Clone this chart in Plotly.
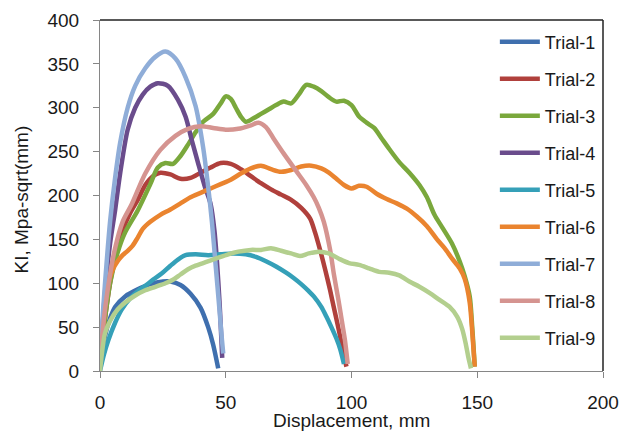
import plotly.graph_objects as go

# ---- data ----
trial1_x = [0, 2, 4, 6, 10, 15, 20, 25, 28, 32, 36, 40, 43, 45, 47]
trial1_y = [5, 40, 60, 73, 85, 93, 99, 102, 102, 98, 88, 72, 50, 30, 3]

trial2_x = [0, 2, 4, 6, 9, 12, 15, 18, 21, 24, 28, 32, 36, 40, 44, 48, 52, 56, 60, 64, 68, 72, 76, 80, 83.5, 85.5, 87.5, 89.5, 91.5, 93, 94.7, 96, 97.4, 98]
trial2_y = [10, 60, 100, 130, 160, 180, 195, 212, 222, 226, 224, 219, 220, 226, 232, 237, 236, 230, 222, 214, 207, 201, 195, 186, 174, 158, 138, 116, 92, 72, 50, 32, 12, 5]

trial3_x = [0, 2, 4, 7, 10, 15, 20, 23, 26, 29, 32, 35, 38, 41, 45, 48, 50, 52, 54, 56, 58, 61, 64, 67, 70, 73, 76, 79, 82, 85, 88, 91, 94, 97, 100, 103, 106, 109, 112, 115, 119, 123, 127, 130, 133, 136, 140, 143, 145, 147, 148, 149]
trial3_y = [10, 60, 100, 135, 158, 183, 213, 232, 237, 236, 245, 258, 272, 284, 293, 305, 313, 310, 300, 290, 284, 288, 293, 298, 303, 307, 305, 315, 326, 324, 319, 312, 307, 308, 303, 290, 283, 277, 265, 253, 238, 226, 212, 198, 178, 164, 145, 125, 108, 85, 50, 5]

trial4_x = [0, 1, 2, 4, 6, 8, 11, 14, 17, 20, 23, 27, 31, 34, 36.5, 39, 41.7, 44, 45.5, 46.5, 47.5, 48.2, 48.6]
trial4_y = [15, 50, 90, 145, 183, 225, 275, 300, 315, 324, 328, 325, 309, 290, 263, 237, 210, 190, 160, 125, 80, 40, 15]

trial5_x = [0, 1.5, 3.3, 6, 8.6, 12, 15, 18, 21, 24.5, 28, 31, 34, 38, 43, 48, 53, 58, 62, 66, 70, 74, 77, 80, 83, 85, 88, 90, 92, 94, 95.5, 97]
trial5_y = [0, 18, 35, 55, 70, 83, 91, 97, 104, 111, 120, 127, 132, 133, 132, 133, 134, 133, 130, 125, 119, 112, 106, 99, 91, 85, 73, 62, 50, 37, 25, 8]

trial6_x = [0, 1.5, 3, 5, 7, 9, 11, 13, 15, 17, 20, 24, 28, 32, 36, 40, 44, 48, 52, 56, 60, 64, 68, 72, 76, 80, 84, 88, 91, 94, 97, 100, 103, 106, 110, 114, 118, 122, 126, 130, 134, 137, 140, 143, 145, 147, 148, 149]
trial6_y = [15, 60, 95, 115, 125, 132, 137, 143, 152, 162, 170, 178, 184, 191, 198, 203, 208, 213, 218, 225, 231, 234, 230, 227, 229, 233, 234, 231, 226, 219, 212, 208, 211, 210, 202, 196, 191, 185, 176, 165, 150, 140, 128, 117, 105, 78, 45, 5]

trial7_x = [0, 1, 2, 4, 6, 8, 11, 14, 18, 22, 26, 30, 34, 38, 41, 43, 44.5, 46, 47.5, 48.5, 49]
trial7_y = [15, 60, 100, 170, 220, 260, 300, 325, 345, 358, 364, 356, 335, 302, 255, 210, 170, 120, 70, 35, 20]

trial8_x = [0, 2, 4, 6, 9, 12.6, 18, 24, 30, 35, 40, 45, 50, 55, 60, 63, 66, 69, 73, 78, 82, 85, 87, 89, 91.5, 93, 94.8, 96, 97.4, 98.5]
trial8_y = [15, 70, 110, 140, 170, 190, 225, 252, 268, 276, 279, 277, 275, 276, 280, 283, 278, 265, 248, 228, 212, 198, 186, 170, 138, 110, 81, 60, 35, 8]

trial9_x = [0, 2, 4, 7, 10, 14, 18, 22, 26, 29, 32, 35, 38, 42, 46, 51, 55, 60, 64, 68, 72, 76, 79.5, 83, 87, 91, 95, 99, 103, 107, 111, 115, 119, 123, 127, 131, 135, 139, 142, 144, 145.5, 146.5, 147.5]
trial9_y = [0, 43, 57, 70, 78, 86, 92, 96, 100, 104, 110, 116, 120, 124, 128, 133, 136, 138, 138, 140, 137, 134, 131, 134, 136, 134, 128, 123, 121, 117, 113, 112, 109, 102, 96, 89, 81, 73, 62, 48, 30, 15, 3]

names = ["Trial-1", "Trial-2", "Trial-3", "Trial-4", "Trial-5", "Trial-6", "Trial-7", "Trial-8", "Trial-9"]
xs = [trial1_x, trial2_x, trial3_x, trial4_x, trial5_x, trial6_x, trial7_x, trial8_x, trial9_x]
ys = [trial1_y, trial2_y, trial3_y, trial4_y, trial5_y, trial6_y, trial7_y, trial8_y, trial9_y]
colors = ["#3f6fae", "#b0403c", "#7aa83c", "#6a4c8c", "#35a0b8",
          "#ea842f", "#8fadd8", "#d59490", "#b3cf8e"]

x_ticks = [0, 50, 100, 150, 200]
y_ticks = [0, 50, 100, 150, 200, 250, 300, 350, 400]
x_title = "Displacement, mm"
y_title = "KI, Mpa-sqrt(mm)"

fig = go.Figure()
for n, x, y, c in zip(names, xs, ys, colors):
    fig.add_trace(go.Scatter(
        x=x, y=y, name=n, mode="lines", legendgroup=n,
        line=dict(color=c, width=4.5, shape="spline", smoothing=0.8),
    ))

font_family = "Liberation Sans, Arial, sans-serif"
fig.update_layout(
    width=623, height=429,
    margin=dict(l=92, r=28, t=12, b=66, autoexpand=False),
    paper_bgcolor="white", plot_bgcolor="white",
    font=dict(family=font_family, size=19, color="#1a1a1a"),
    showlegend=True,
    legend=dict(x=0.785, y=0.99, xanchor="left", yanchor="top",
                bgcolor="rgba(0,0,0,0)", font=dict(size=18),
                tracegroupgap=10.6, itemwidth=40),
    xaxis=dict(range=[0, 200], tickvals=x_ticks, showgrid=False, zeroline=False,
               automargin=False,
               showline=True, linecolor="#868686", linewidth=1,
               ticks="outside", ticklen=6, tickcolor="#868686",
               ticklabelstandoff=8),
    yaxis=dict(range=[0, 400], tickvals=y_ticks, showgrid=False, zeroline=False,
               automargin=False,
               showline=True, linecolor="#868686", linewidth=1,
               ticks="outside", ticklen=6, tickcolor="#868686",
               ticklabelstandoff=10),
    annotations=[
        dict(text=x_title, xref="paper", yref="paper", x=0.5, y=0,
             xanchor="center", yanchor="middle", yshift=-49, showarrow=False,
             font=dict(size=19)),
        dict(text=y_title, xref="paper", yref="paper", x=0, y=0.5,
             xanchor="center", yanchor="middle", xshift=-79, yshift=-4,
             textangle=-90, showarrow=False, font=dict(size=19)),
    ],
    shapes=[
        dict(type="line", xref="paper", yref="paper", x0=0, x1=1, y0=1, y1=1,
             line=dict(color="#222222", width=1.5)),
        dict(type="line", xref="paper", yref="paper", x0=1, x1=1, y0=0, y1=1,
             line=dict(color="#222222", width=1.5)),
    ],
)

fig.write_html("out.html")
